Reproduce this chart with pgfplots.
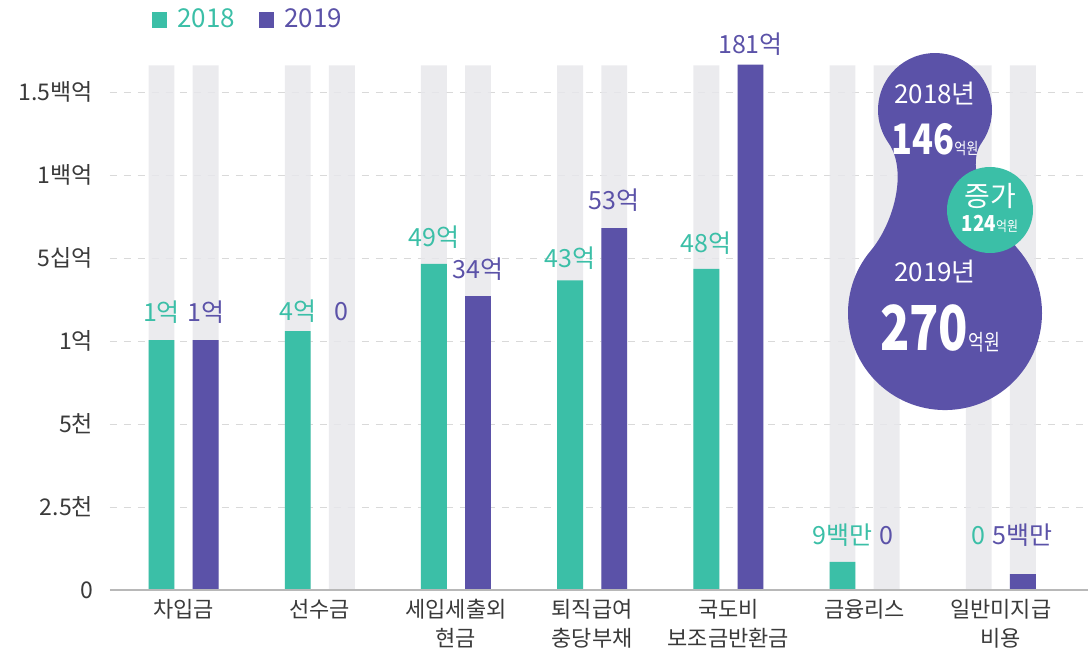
\documentclass[border=0pt]{standalone}
\usepackage{fontspec}
\setmainfont{Noto Sans CJK KR}
\usepackage{pgfplots}
\pgfplotsset{compat=1.18}
\usepackage{pgfplotstable}

\definecolor{c18}{HTML}{3BBFA7}
\definecolor{c19}{HTML}{5B52A8}
\definecolor{barbg}{HTML}{E7E7EB}
\definecolor{tick}{HTML}{3A3A3A}

% bar positions: group i, 2018 at i-0.162, 2019 at i+0.162
\pgfplotstableread{
x y
-0.162 3.01
0.838 3.12
1.838 3.93
2.838 3.73
3.838 3.87
4.838 0.34
}\first
\pgfplotstableread{
x y
0.162 3.01
2.162 3.54
3.162 4.36
4.162 6.33
6.162 0.19
}\second
\pgfplotstableread{
x y
-0.162 6.32
0.162 6.32
0.838 6.32
1.162 6.32
1.838 6.32
2.162 6.32
2.838 6.32
3.162 6.32
3.838 6.32
4.162 6.32
4.838 6.32
5.162 6.32
5.838 6.32
6.162 6.32
}\background
\pgfplotstableread{
x y lbl
-0.162 3.35 1억
0.838 3.36 4억
1.838 4.25 49억
2.838 4.00 43억
3.838 4.18 48억
4.838 0.66 9백만
5.838 0.66 0
}\firstlbl
\pgfplotstableread{
x y lbl
0.162 3.35 1억
1.162 3.36 0
2.162 3.86 34억
3.162 4.70 53억
4.162 6.58 181억
5.162 0.66 0
6.162 0.66 5백만
}\secondlbl

\begin{document}
\begin{tikzpicture}
\useasboundingbox (-55pt,-35.5pt) rectangle (489pt,295pt);
\begin{axis}[
    scale only axis,
    width=489pt, height=265.6pt,
    xmin=-0.54, xmax=6.64,
    ymin=0, ymax=6.4,
    clip=false,
    axis line style={draw=none},
    tick style={draw=none},
    xtick={0,...,6},
    xticklabels={차입금,선수금,세입세출외\\현금,퇴직급여\\충당부채,국도비\\보조금반환금,금융리스,일반미지급\\비용},
    xticklabel style={align=center, font=\fontsize{11}{14.5}\selectfont, text=tick, yshift=-1pt},
    ytick={0,...,6},
    yticklabels={0,2.5천,5천,1억,5십억,1백억,1.5백억},
    yticklabel style={font=\fontsize{11.5}{13}\selectfont, text=tick, xshift=-5pt},
    ymajorgrids=true,
    grid style={draw=black!15, dash pattern=on 3.5pt off 3.5pt, line width=0.5pt},
    legend columns=2,
    legend style={at={(axis description cs:0.043,1.073)}, anchor=west, draw=none, fill=none,
        font=\fontsize{13}{15}\selectfont, inner sep=0pt,
        /tikz/every odd column/.append style={column sep=3pt},
        /tikz/every even column/.append style={column sep=10pt}},
    legend image code/.code={\fill[#1] (0pt,-3.8pt) rectangle (7.5pt,3.8pt);},
]
\addplot[ybar, bar width=0.19, bar shift=0pt, draw=none, fill=barbg, fill opacity=0.85, forget plot] table[x=x,y=y] {\background};
\addplot[ybar, bar width=0.19, bar shift=0pt, draw=none, fill=c18] table[x=x,y=y] {\first};
\addlegendentry{\textcolor{c18}{2018}}
\addplot[ybar, bar width=0.19, bar shift=0pt, draw=none, fill=c19] table[x=x,y=y] {\second};
\addlegendentry{\textcolor{c19}{2019}}
\addplot[draw=none, mark=none, forget plot, nodes near coords, point meta=explicit symbolic,
    nodes near coords style={anchor=center, text=c18, font=\fontsize{12.5}{14}\selectfont}]
    table[x=x,y=y,meta=lbl] {\firstlbl};
\addplot[draw=none, mark=none, forget plot, nodes near coords, point meta=explicit symbolic,
    nodes near coords style={anchor=center, text=c19, font=\fontsize{12.5}{14}\selectfont}]
    table[x=x,y=y,meta=lbl] {\secondlbl};
\draw[black!28, line width=1pt] (rel axis cs:0,0) -- (rel axis cs:1,0);
\end{axis}

% summary bubble, coordinates in image pixels (y up is negative)
\begin{scope}[shift={(-55pt,295pt)}, x=0.5pt, y=0.5pt]
\fill[c19] (981.7,-142.7) arc[start angle=-35, end angle=215, radius=57]
    .. controls (908.4,-171.4) and (893.2,-223.9) .. (870.7,-250.7)
    arc[start angle=140, end angle=400, radius=97]
    .. controls (996.8,-223.9) and (961.6,-171.4) .. (981.7,-142.7) -- cycle;
\fill[c18] (990,-210) circle[radius=43];
\node[text=white, font=\fontsize{13}{15}\selectfont] at (935,-94) {2018년};
\node[text=white, font=\fontsize{21}{24}\selectfont\bfseries, inner sep=0pt, xscale=0.82] at (935,-140)
    {146{\fontsize{8}{9}\selectfont\mdseries 억원}};
\node[text=white, font=\fontsize{14}{16}\selectfont] at (990,-196) {증가};
\node[text=white, font=\fontsize{11}{13}\selectfont\bfseries, inner sep=0pt, xscale=0.85] at (990,-224)
    {124{\fontsize{7}{8}\selectfont\mdseries 억원}};
\node[text=white, font=\fontsize{13}{15}\selectfont] at (935,-272) {2019년};
\node[text=white, font=\fontsize{31}{34}\selectfont\bfseries, inner sep=0pt, xscale=0.78] at (940,-328)
    {270{\fontsize{11}{12}\selectfont\mdseries 억원}};
\end{scope}
\end{tikzpicture}
\end{document}
